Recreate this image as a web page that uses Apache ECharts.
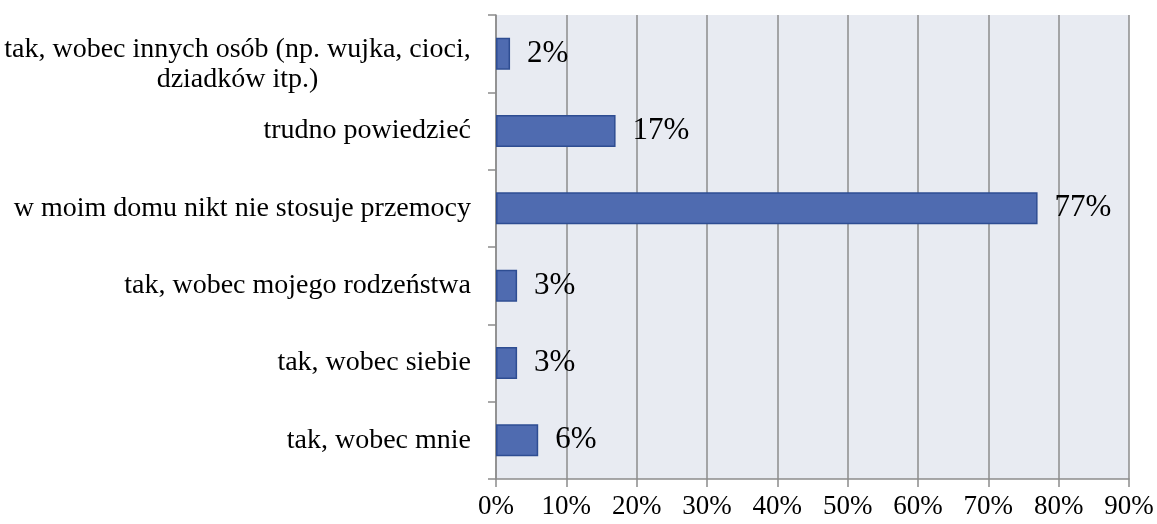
<!DOCTYPE html>
<html>
<head>
<meta charset="utf-8">
<script src="https://cdn.jsdelivr.net/npm/echarts@6/dist/echarts.min.js"></script>
<style>
  html, body { margin: 0; padding: 0; background: #ffffff; }
  #chart { width: 1157px; height: 524px; }
</style>
</head>
<body>
<div id="chart"></div>
<script>
// Categories listed bottom to top (category axis runs upward)
const categories = [
  'tak, wobec mnie',
  'tak, wobec siebie',
  'tak, wobec mojego rodzeństwa',
  'w moim domu nikt nie stosuje przemocy',
  'trudno powiedzieć',
  'tak, wobec innych osób (np. wujka, cioci,\ndziadków itp.)'
];
const values = [6, 3, 3, 77, 17, 2];
const xTicks = [0, 10, 20, 30, 40, 50, 60, 70, 80, 90];

const FONT = '"Liberation Serif", serif';
const CAT_SIZE = 28;
const GRID_GREY = '#8c8c8c';

// Width of the widest line of a wrapped label, so its lines can be centred on each other
function lineWidth(text) {
  const ctx = document.createElement('canvas').getContext('2d');
  ctx.font = CAT_SIZE + 'px ' + FONT;
  return Math.max(...text.split('\n').map(s => ctx.measureText(s).width));
}
const wrapWidth = Math.ceil(Math.max(...categories.filter(c => c.includes('\n')).map(lineWidth)));

const chart = echarts.init(document.getElementById('chart'), null, { renderer: 'canvas' });

chart.setOption({
  animation: false,
  backgroundColor: '#ffffff',
  grid: {
    left: 496, right: 28, top: 15, bottom: 45,
    show: true, backgroundColor: '#e8ebf2', borderWidth: 0
  },
  xAxis: {
    type: 'value',
    min: xTicks[0],
    max: xTicks[xTicks.length - 1],
    interval: 10,
    axisLine: { show: true, lineStyle: { color: GRID_GREY, width: 1.5 } },
    axisTick: { show: true, length: 8, lineStyle: { color: GRID_GREY, width: 1.5 } },
    splitLine: { show: true, lineStyle: { color: GRID_GREY, width: 1.5 } },
    axisLabel: {
      color: '#000', fontFamily: FONT, fontSize: 27, margin: 14,
      formatter: v => v + '%'
    }
  },
  yAxis: {
    type: 'category',
    data: categories,
    axisLine: { show: true, lineStyle: { color: GRID_GREY, width: 1.5 } },
    axisTick: { show: true, length: 8, lineStyle: { color: GRID_GREY, width: 1.5 } },
    axisLabel: {
      color: '#000', fontFamily: FONT, fontSize: CAT_SIZE, margin: 25, lineHeight: 30,
      formatter: v => {
        if (v.indexOf('\n') < 0) return v;
        // a thin spacer line on top pushes the wrapped pair slightly downward
        return '{s| }\n' + v.split('\n').map(s => '{w|' + s + '}').join('\n');
      },
      rich: {
        s: { fontSize: 4, lineHeight: 22, width: wrapWidth },
        w: {
          fontFamily: FONT, fontSize: CAT_SIZE, color: '#000', lineHeight: 30,
          width: wrapWidth, align: 'center'
        }
      }
    }
  },
  series: [{
    type: 'bar',
    data: values,
    barWidth: 32,
    itemStyle: { color: '#4f6bb0', borderColor: '#2e4d92', borderWidth: 1.5 },
    label: {
      show: true, position: 'right', distance: 17,
      color: '#000', fontFamily: FONT, fontSize: 31,
      formatter: p => p.value + '%'
    }
  }]
});
</script>
</body>
</html>
